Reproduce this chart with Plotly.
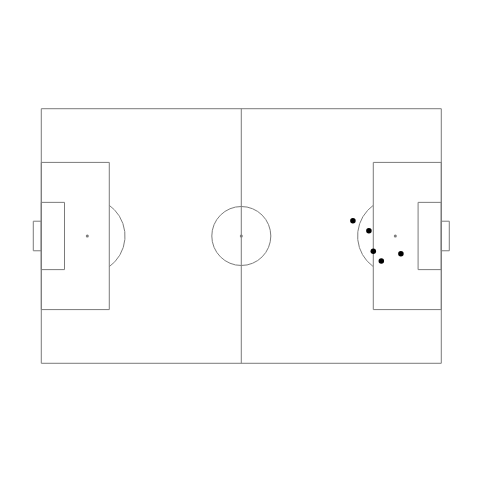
import numpy as np
import plotly.graph_objects as go

# shot locations (opta-style 0-100 pitch coords)
shot_x = [77.9, 81.9, 83.0, 89.9, 85.0]
shot_y = [56.0, 52.1, 44.0, 43.0, 40.2]

# spots: left penalty, centre, right penalty
spot_x = [11.5, 50.0, 88.5]
spot_y = [50.0, 50.0, 50.0]

LINE = '#7a7a7a'

fig = go.Figure()

shapes = []

def rect(x0, y0, x1, y1):
    shapes.append(dict(type='rect', x0=x0, y0=y0, x1=x1, y1=y1,
                       line=dict(color=LINE, width=1), layer='below'))

def line(x0, y0, x1, y1):
    shapes.append(dict(type='line', x0=x0, y0=y0, x1=x1, y1=y1,
                       line=dict(color=LINE, width=1), layer='below'))

# outline + halfway
rect(0, 0, 100, 100)
line(50, 0, 50, 100)

# penalty areas / six yard boxes / goals
rect(0, 21.1, 17, 78.9)
rect(83, 21.1, 100, 78.9)
rect(0, 36.8, 5.8, 63.2)
rect(94.2, 36.8, 100, 63.2)
rect(-2, 44.2, 0, 55.8)
rect(100, 44.2, 102, 55.8)

# centre circle (round in pixels)
rx, ry = 7.375, 11.59
shapes.append(dict(type='circle', x0=50 - rx, x1=50 + rx, y0=50 - ry, y1=50 + ry,
                   line=dict(color=LINE, width=1), layer='below'))

# penalty arcs
arx, ary = 9.425, 14.81
t = np.linspace(0, 2 * np.pi, 400)
for cx, keep in [(11.5, lambda x: x > 17), (88.5, lambda x: x < 83)]:
    ax = cx + arx * np.cos(t)
    ay = 50 + ary * np.sin(t)
    m = keep(ax)
    ax, ay = ax[m], ay[m]
    order = np.argsort(ay)
    fig.add_trace(go.Scatter(x=ax[order], y=ay[order], mode='lines',
                             line=dict(color=LINE, width=1), hoverinfo='skip'))

fig.add_trace(go.Scatter(x=spot_x, y=spot_y, mode='markers',
                         marker=dict(color=LINE, size=3), hoverinfo='skip'))

fig.add_trace(go.Scatter(x=shot_x, y=shot_y, mode='markers',
                         marker=dict(color='black', size=5.5)))

fig.update_layout(
    width=480, height=480,
    margin=dict(l=0, r=0, t=0, b=0),
    paper_bgcolor='white', plot_bgcolor='white',
    showlegend=False,
    shapes=shapes,
    xaxis=dict(range=[-8.325, 111.675], visible=False, fixedrange=True),
    yaxis=dict(range=[-48.98, 139.55], visible=False, fixedrange=True),
)

fig.write_html('out.html')
